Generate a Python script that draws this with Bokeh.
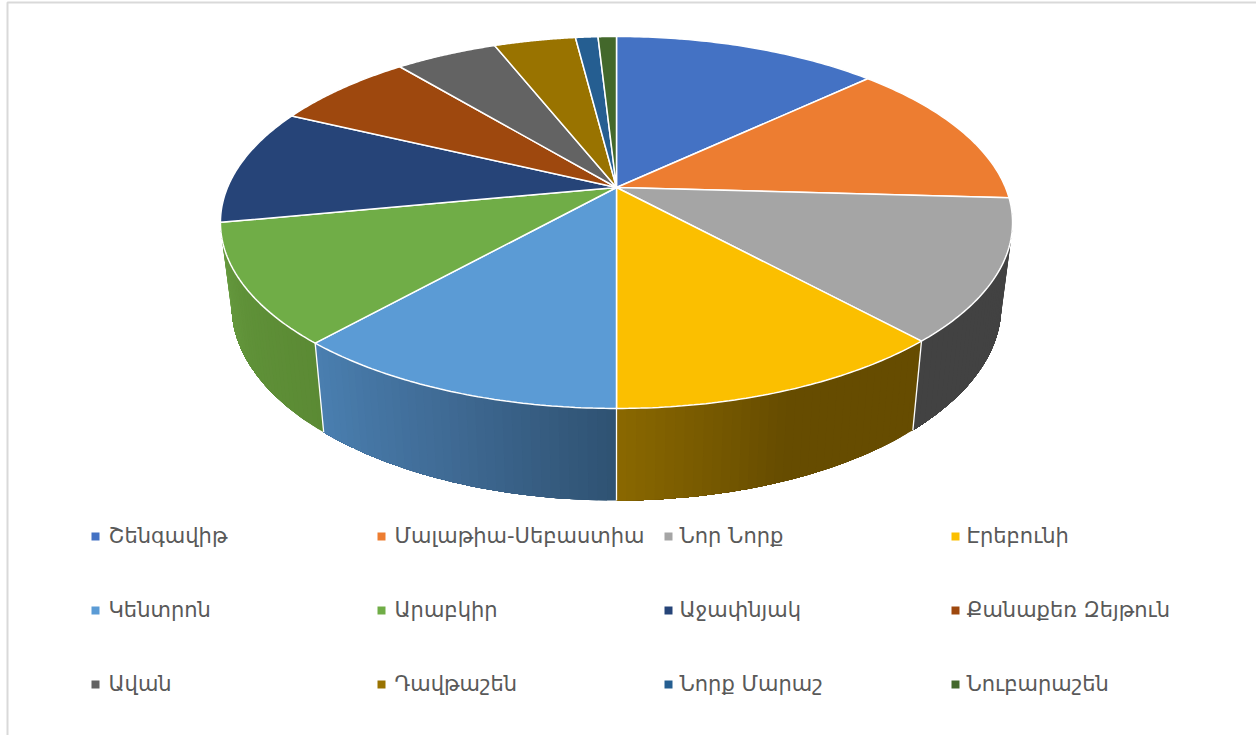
import numpy as np
from bokeh.plotting import figure
from bokeh.models import Range1d
from bokeh.core.properties import value
from bokeh.embed import file_html
from bokeh.resources import INLINE

categories = ["Շենգավիթ", "Մալաթիա-Սեբաստիա", "Նոր Նորք", "Էրեբունի",
              "Կենտրոն", "Արաբկիր", "Աջափնյակ", "Քանաքեռ Զեյթուն",
              "Ավան", "Դավթաշեն", "Նորք Մարաշ", "Նուբարաշեն"]
shares = [13.0, 12.9, 12.3, 11.8, 11.6, 10.4, 10.1, 6.9, 5.0, 4.0, 1.1, 0.9]
colors = ["#4472C4", "#ED7D31", "#A5A5A5", "#FBBF00", "#5B9BD5", "#70AD47",
          "#264478", "#9E480E", "#636363", "#997300", "#255E91", "#43682B"]
# wall shades, listed from the right-hand end of the wall to the left-hand end
wall_colors = {2: ("#424242", "#424242", "#424242"),
               3: ("#664C00", "#664C00", "#8A6800"),
               4: ("#2F5272", "#3F6A94", "#4A7FB0"),
               5: ("#5B8A34", "#5F9138", "#689B41")}

W, H = 1256, 735
CX, CY = 616, 187
C = 0.188
TOP_A, TOP_B = 389, 179.4
BOT_A, BOT_B, BOT_Y = 378, 187.6, 269

def top_pt(t):
    X, Y = np.sin(t), np.cos(t)
    d = 1 + C * Y
    return CX + TOP_A * X / d, CY - TOP_B * Y / d

def bot_pt(t):
    X, Y = np.sin(t), np.cos(t)
    d = 1 + C * Y
    return CX + BOT_A * X / d, BOT_Y - BOT_B * Y / d

def hex2rgb(c):
    return np.array([int(c[i:i + 2], 16) for i in (1, 3, 5)], dtype=float)

def mix(stops, f):
    a = f * (len(stops) - 1)
    i = min(int(a), len(stops) - 2)
    r = hex2rgb(stops[i]) * (1 - (a - i)) + hex2rgb(stops[i + 1]) * (a - i)
    return "#%02x%02x%02x" % tuple(int(round(v)) for v in r)

edges = np.concatenate([[0], np.cumsum(shares)]) / sum(shares) * 2 * np.pi

p = figure(width=W, height=H, x_range=Range1d(0, W), y_range=Range1d(H, 0),
           x_axis_type=None, y_axis_type=None, toolbar_location=None,
           output_backend="svg", min_border=0, outline_line_color=None)
p.grid.visible = False
p.background_fill_color = "white"

p.line([7, 7, W], [H, 2, 2], line_color="#D9D9D9", line_width=2)

# side walls: overlapping bands, each painted over the one before it
xs, ys, cs = [], [], []
for i, stops in wall_colors.items():
    n = 36
    ts = np.linspace(edges[i], edges[i + 1], n + 1)
    for k in range(n):
        seg = ts[k:]
        ax, ay = top_pt(seg)
        bx, by = bot_pt(seg[::-1])
        xs.append(list(ax) + list(bx)); ys.append(list(ay) + list(by))
        cs.append(mix(stops, (k + 0.5) / n))
p.patches(xs, ys, fill_color=cs, line_color=None)

# separators between walls
for i in (3, 4, 5):
    x0, y0 = top_pt(edges[i]); x1, y1 = bot_pt(edges[i])
    p.line([x0, x1], [y0, y1], line_color="white", line_width=1.3)

# top face
xs, ys = [], []
for i in range(len(shares)):
    ts = np.linspace(edges[i], edges[i + 1], 60)
    px, py = top_pt(ts)
    xs.append([CX] + list(px)); ys.append([CY] + list(py))
p.patches(xs, ys, fill_color=colors, line_color="white", line_width=1.5)

# legend
col_sq = [95, 381, 668, 955]
col_tx = [108, 394, 679, 966]
rows = [536, 610, 684]
lx, ly, tx, ty = [], [], [], []
for i in range(len(categories)):
    r, c = divmod(i, 4)
    lx.append(col_sq[c]); ly.append(rows[r]); tx.append(col_tx[c]); ty.append(rows[r] - 1)
p.rect(lx, ly, width=8, height=8, fill_color=colors, line_color=None)
p.text(tx, ty, text=categories, text_font=value("DejaVu Sans"), text_font_size="21px",
       text_color="#595959", text_baseline="middle", text_align="left")

open("out.html", "w").write(file_html(p, INLINE))
